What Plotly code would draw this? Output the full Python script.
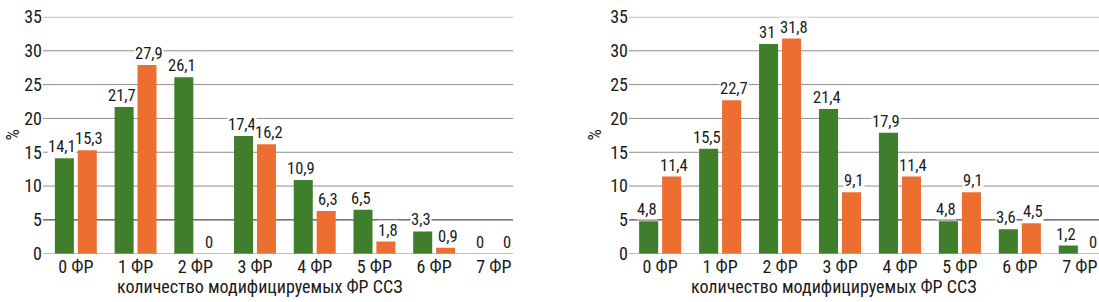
import plotly.graph_objects as go

categories = ["0 ФР", "1 ФР", "2 ФР", "3 ФР", "4 ФР", "5 ФР", "6 ФР", "7 ФР"]
left_green = [14.1, 21.7, 26.1, 17.4, 10.9, 6.5, 3.3, 0]
left_orange = [15.3, 27.9, 0, 16.2, 6.3, 1.8, 0.9, 0]
right_green = [4.8, 15.5, 31, 21.4, 17.9, 4.8, 3.6, 1.2]
right_orange = [11.4, 22.7, 31.8, 9.1, 11.4, 9.1, 4.5, 0]
y_ticks = [0, 5, 10, 15, 20, 25, 30, 35]
x_title = "количество модифицируемых ФР ССЗ"
y_title = "%"

GREEN = "#3f7e2b"
ORANGE = "#ec6f31"
GRID = "#8e8e8e"
GRID_DARK = "#222222"
FONT = "Roboto Condensed, Archivo Narrow, Liberation Sans Narrow, Roboto, sans-serif"
TXT = "#1a1a1a"
W, H = 1099, 302
HE = 290  # effective rendered height used for vertical placement


def fmt(v):
    return f"{v:g}".replace(".", ",")


fig = go.Figure()
panels = [
    ("x", "y", left_green, left_orange),
    ("x2", "y2", right_green, right_orange),
]
for xa, ya, g, o in panels:
    fig.add_trace(go.Bar(x=categories, y=g, marker_color=GREEN, marker_line_width=0,
                         xaxis=xa, yaxis=ya, offsetgroup="g", showlegend=False, hoverinfo="skip"))
    fig.add_trace(go.Bar(x=categories, y=o, marker_color=ORANGE, marker_line_width=0,
                         xaxis=xa, yaxis=ya, offsetgroup="o", showlegend=False, hoverinfo="skip"))

annotations = []
for xa, ya, g, o in panels:
    for series, shift in ((g, -13.5), (o, 13.5)):
        for c, v in zip(categories, series):
            annotations.append(dict(x=c, y=v, xref=xa, yref=ya, text=fmt(v),
                                    showarrow=False, xshift=shift, xanchor="center",
                                    yanchor="bottom", yshift=1, bgcolor="white", borderpad=0,
                                    font=dict(family=FONT, size=16.5, color=TXT)))

# axis titles
ydom = [1 - 250.5 / HE, 1 - 6 / HE]
for xc in (259, 833):
    annotations.append(dict(x=xc / W, y=1 - 284 / HE, xref="paper", yref="paper", text=x_title,
                            showarrow=False, xanchor="center", yanchor="middle",
                            font=dict(family=FONT, size=18, color=TXT)))
for xc in (0, 582):
    annotations.append(dict(x=xc / W, y=1 - 128 / HE, xref="paper", yref="paper", text=y_title,
                            textangle=-90, showarrow=False, xanchor="left", yanchor="middle",
                            font=dict(family=FONT, size=18, color=TXT)))

# horizontal gridlines (the 5 % line is drawn darker, as in the original)
shapes = []
for xa, ya in (("x", "y"), ("x2", "y2")):
    for t in y_ticks:
        shapes.append(dict(type="line", xref=f"{xa} domain", yref=ya, x0=0, x1=1, y0=t, y1=t,
                           line=dict(color=GRID_DARK if t == 5 else GRID, width=1),
                           layer="below"))

xcommon = dict(type="category", showgrid=False, zeroline=False, showline=False, ticks="",
               tickfont=dict(family=FONT, size=18, color=TXT))
ycommon = dict(range=[0, 35.02], tickvals=y_ticks, showgrid=False, ticklabeloverflow="allow",
               zeroline=False, showline=False, ticks="", domain=ydom,
               tickfont=dict(family=FONT, size=18, color=TXT))

fig.update_layout(
    width=W, height=H, autosize=False,
    margin=dict(l=0, r=0, t=0, b=0),
    paper_bgcolor="white", plot_bgcolor="white",
    barmode="group", bargap=0.233, bargroupgap=0.17,
    xaxis=dict(domain=[43 / W, 513 / W], range=[-0.55, 7.32], anchor="y", **xcommon),
    xaxis2=dict(domain=[629 / W, 1.0], range=[-0.52, 7.32], anchor="y2", **xcommon),
    yaxis=dict(anchor="x", **ycommon),
    yaxis2=dict(anchor="x2", **ycommon),
    annotations=annotations,
    shapes=shapes,
)

page_css = (
    "var s=document.createElement('style');"
    "s.textContent='html,body{margin:0;padding:0;width:1099px;height:302px;overflow:hidden;}';"
    "document.head.appendChild(s);"
)
fig.write_html(
    "out.html",
    config={"responsive": False, "displayModeBar": False},
    post_script=page_css,
)
